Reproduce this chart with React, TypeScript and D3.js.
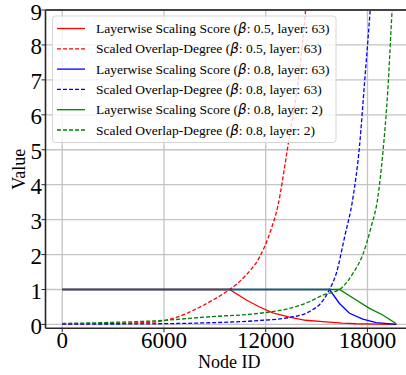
import React, { useEffect, useRef } from "react";
import * as d3 from "d3";

// Node IDs / values
const redScoreNodes = [0, 9870, 10855, 11640, 12420, 13400, 14350, 15370, 16500, 17330, 18500, 19700];
const redScoreVals = [1, 1, 0.70, 0.5, 0.33, 0.21, 0.12, 0.08, 0.04, 0.02, 0.01, 0.0];

const redOverlapNodes = [0, 2000, 4000, 4760, 5745, 6727, 7710, 8887, 9870, 10855, 11640, 12230, 12720, 13306, 13995, 14350, 14500];
const redOverlapVals = [0.02, 0.025, 0.04, 0.05, 0.09, 0.2, 0.4, 0.7, 1.0, 1.42, 1.93, 2.6, 3.4, 5.1, 7.3, 9.0, 10];

const blueScoreNodes = [0, 15760, 16350, 16940, 17725, 18515, 19700];
const blueScoreVals = [1, 1, 0.6, 0.32, 0.15, 0.05, 0.0];

const blueOverlapNodes = [0, 4000, 8000, 10000, 11830, 13400, 14580, 15370, 15760, 16160, 16650, 17135, 17530, 17825, 18160, 18300];
const blueOverlapVals = [0.01, 0.015, 0.04, 0.07, 0.12, 0.2, 0.37, 0.68, 1.0, 1.46, 2.5, 3.6, 5.1, 6.9, 9.0, 10];

const greenScoreNodes = [0, 16350, 17335, 18120, 18900, 19700];
const greenScoreVals = [1, 1, 0.7, 0.46, 0.27, 0.02];

const greenOverlapNodes = [0, 3000, 5745, 8690, 11640, 13400, 14580, 15370, 16350, 17140, 17725, 18220, 18600, 18905, 19200, 19455, 19600];
const greenOverlapVals = [0.03, 0.06, 0.11, 0.22, 0.32, 0.46, 0.65, 0.84, 1.0, 1.46, 2.0, 2.8, 3.6, 4.9, 6.7, 9.0, 10];

const xTicks = [0, 6000, 12000, 18000];
const yTicks = [0, 1, 2, 3, 4, 5, 6, 7, 8, 9];

const seriesLabels = [
  ["Layerwise Scaling Score (", "0.5, layer: 63)"],
  ["Scaled Overlap-Degree (", "0.5, layer: 63)"],
  ["Layerwise Scaling Score (", "0.8, layer: 63)"],
  ["Scaled Overlap-Degree (", "0.8, layer: 63)"],
  ["Layerwise Scaling Score (", "0.8, layer: 2)"],
  ["Scaled Overlap-Degree (", "0.8, layer: 2)"],
];
const seriesColors = ["#ff0000", "#ff0000", "#0000ff", "#0000ff", "#008000", "#008000"];
const seriesDashed = [false, true, false, true, false, true];

const serif = "'Liberation Serif', 'Times New Roman', serif";

export default function App() {
  const svgRef = useRef<SVGSVGElement>(null);

  useEffect(() => {
    const svg = d3.select(svgRef.current);
    svg.selectAll("*").remove();

    const left = 45.5, right = 413, top = 10, bottom = 328.3;

    const x = d3.scaleLinear().domain([-985, 20685]).range([left, right]);
    const y = d3.scaleLinear().domain([-0.11, 9]).range([bottom, top]);

    svg.append("defs").append("clipPath").attr("id", "plotclip")
      .append("rect").attr("x", left).attr("y", top)
      .attr("width", right - left).attr("height", bottom - top);

    // grid
    const grid = svg.append("g");
    xTicks.forEach(t => {
      grid.append("line").attr("x1", x(t)).attr("x2", x(t)).attr("y1", top).attr("y2", bottom)
        .attr("stroke", "#c4c4c4").attr("stroke-width", 1.3);
    });
    yTicks.forEach(t => {
      grid.append("line").attr("x1", left).attr("x2", right).attr("y1", y(t)).attr("y2", y(t))
        .attr("stroke", "#c4c4c4").attr("stroke-width", 1.3);
    });

    const data = [
      [redScoreNodes, redScoreVals],
      [redOverlapNodes, redOverlapVals],
      [blueScoreNodes, blueScoreVals],
      [blueOverlapNodes, blueOverlapVals],
      [greenScoreNodes, greenScoreVals],
      [greenOverlapNodes, greenOverlapVals],
    ];

    const curves = svg.append("g").attr("clip-path", "url(#plotclip)");
    data.forEach(([nodes, vals], i) => {
      const pts = nodes.map((n, k) => [n, vals[k]] as [number, number]);
      const line = d3.line<[number, number]>().x(d => x(d[0])).y(d => y(d[1]))
        .curve(seriesDashed[i] ? d3.curveMonotoneX : d3.curveLinear);
      curves.append("path").attr("d", line(pts))
        .attr("fill", "none")
        .attr("stroke", seriesColors[i])
        .attr("stroke-width", 1.3)
        .attr("stroke-dasharray", seriesDashed[i] ? "4,2" : null);
    });

    // spines
    svg.append("line").attr("x1", left).attr("x2", left).attr("y1", top).attr("y2", bottom)
      .attr("stroke", "#262626").attr("stroke-width", 1.6);
    svg.append("line").attr("x1", left).attr("x2", right).attr("y1", bottom).attr("y2", bottom)
      .attr("stroke", "#262626").attr("stroke-width", 1.6);
    svg.append("line").attr("x1", left).attr("x2", right).attr("y1", top).attr("y2", top)
      .attr("stroke", "#444").attr("stroke-width", 2);

    // ticks + labels
    xTicks.forEach(t => {
      svg.append("line").attr("x1", x(t)).attr("x2", x(t)).attr("y1", bottom).attr("y2", bottom + 4)
        .attr("stroke", "#262626").attr("stroke-width", 1);
      svg.append("text").attr("x", x(t)).attr("y", 348).attr("text-anchor", "middle")
        .attr("font-family", serif).attr("font-size", 23).attr("fill", "#000").text(String(t));
    });
    yTicks.forEach(t => {
      svg.append("line").attr("x1", left - 4).attr("x2", left).attr("y1", y(t)).attr("y2", y(t))
        .attr("stroke", "#262626").attr("stroke-width", 1);
      svg.append("text").attr("x", 42).attr("y", y(t) + 9.5).attr("text-anchor", "end")
        .attr("font-family", serif).attr("font-size", 23).attr("fill", "#000").text(String(t));
    });

    svg.append("text").attr("x", (left + right) / 2).attr("y", 368).attr("text-anchor", "middle")
      .attr("font-family", serif).attr("font-size", 18).text("Node ID");
    svg.append("text").attr("transform", `translate(25,${(top + bottom) / 2}) rotate(-90)`)
      .attr("text-anchor", "middle")
      .attr("font-family", serif).attr("font-size", 18).text("Value");

    // legend
    const lg = svg.append("g");
    lg.append("rect").attr("x", 52.5).attr("y", 16).attr("width", 283.5).attr("height", 126.5)
      .attr("rx", 3).attr("fill", "rgba(255,255,255,0.8)").attr("stroke", "#d6d6d6").attr("stroke-width", 1);
    seriesLabels.forEach((lab, i) => {
      const cy = 28.5 + i * 20.3;
      lg.append("line").attr("x1", 57).attr("x2", 85).attr("y1", cy).attr("y2", cy)
        .attr("stroke", seriesColors[i]).attr("stroke-width", 1.3)
        .attr("stroke-dasharray", seriesDashed[i] ? "4,2" : null);
      const t = lg.append("text").attr("x", 96).attr("y", cy + 4.5)
        .attr("font-family", serif).attr("font-size", 13.5).attr("fill", "#000");
      t.append("tspan").text(lab[0]);
      t.append("tspan").attr("font-family", "'DejaVu Sans', sans-serif").attr("font-style", "italic").text("β");
      t.append("tspan").text(": " + lab[1]);
    });
  }, []);

  return (
    <div style={{ position: "fixed", left: 0, top: 0 }}>
      <svg ref={svgRef} width={406} height={375} style={{ display: "block", background: "#fff" }} />
    </div>
  );
}
